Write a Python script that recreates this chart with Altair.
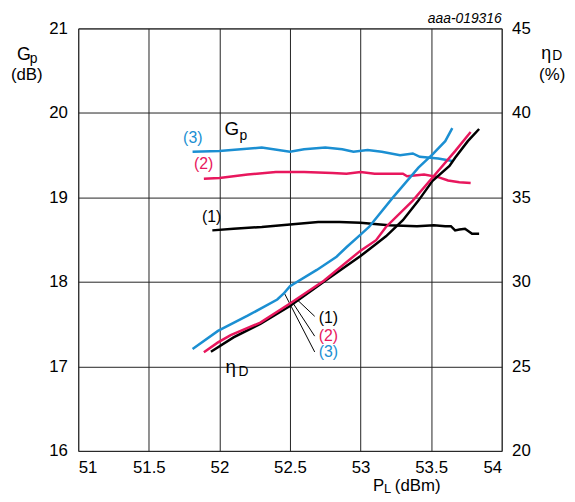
import altair as alt
import pandas as pd

FONT = "Liberation Sans"
BLUE = "#1b8fd2"
PINK = "#e8175d"
BLACK = "#000000"

# ---- data ----
# power gain Gp (dB) vs load power PL (dBm)
gp1_pl = [51.95, 52.10, 52.30, 52.50, 52.70, 52.85, 53.00, 53.20, 53.40, 53.52, 53.60, 53.64, 53.67, 53.70, 53.74, 53.79, 53.84]
gp1_v = [18.61, 18.63, 18.65, 18.68, 18.71, 18.71, 18.70, 18.67, 18.66, 18.67, 18.66, 18.66, 18.61, 18.62, 18.63, 18.57, 18.57]
gp2_pl = [51.89, 52.00, 52.20, 52.40, 52.60, 52.80, 52.90, 53.00, 53.10, 53.30, 53.33, 53.45, 53.55, 53.62, 53.70, 53.78]
gp2_v = [19.22, 19.23, 19.27, 19.30, 19.30, 19.29, 19.28, 19.30, 19.28, 19.28, 19.25, 19.27, 19.24, 19.20, 19.18, 19.17]
gp3_pl = [51.81, 52.00, 52.30, 52.50, 52.60, 52.75, 52.87, 52.95, 53.05, 53.15, 53.28, 53.37, 53.42, 53.55, 53.65]
gp3_v = [19.54, 19.55, 19.59, 19.54, 19.57, 19.59, 19.57, 19.54, 19.56, 19.54, 19.50, 19.52, 19.48, 19.46, 19.43]

# drain efficiency (%) vs PL (dBm)
eta1_pl = [51.94, 52.10, 52.29, 52.50, 52.76, 53.00, 53.11, 53.18, 53.30, 53.41, 53.51, 53.63, 53.67, 53.76, 53.84]
eta1_v = [25.87, 26.72, 27.52, 28.57, 30.13, 31.53, 32.24, 32.70, 33.65, 34.81, 35.98, 36.86, 37.35, 38.33, 39.05]
eta2_pl = [51.89, 51.99, 52.08, 52.29, 52.50, 52.74, 53.00, 53.11, 53.18, 53.37, 53.51, 53.67, 53.78]
eta2_v = [25.84, 26.42, 26.85, 27.59, 28.72, 30.07, 31.85, 32.47, 33.25, 34.81, 36.18, 37.74, 38.87]
eta3_pl = [51.81, 51.99, 52.20, 52.41, 52.46, 52.50, 52.69, 52.83, 52.90, 53.00, 53.06, 53.23, 53.41, 53.51, 53.60, 53.65]
eta3_v = [26.03, 27.10, 28.00, 28.96, 29.35, 29.74, 30.71, 31.49, 32.05, 32.80, 33.25, 35.00, 36.76, 37.55, 38.33, 39.10]

series_names = ["1", "2", "3"]
series_colors = [BLACK, PINK, BLUE]

x_ticks = [51, 51.5, 52, 52.5, 53, 53.5, 54]
gp_ticks = [16, 17, 18, 19, 20, 21]
eta_ticks = [20, 25, 30, 35, 40, 45]

# in-plot annotations (positions in PL / Gp units)
ann_text = ["(3)", "(2)", "(1)", "G", "p", "(1)", "(2)", "(3)", "η", "D"]
ann_pl = [51.743, 51.82, 51.876, 52.037, 52.142, 52.703, 52.703, 52.703, 52.044, 52.135]
ann_gp = [19.70, 19.396, 18.763, 19.806, 19.724, 17.569, 17.358, 17.171, 16.995, 16.937]
ann_col = [BLUE, PINK, BLACK, BLACK, BLACK, BLACK, PINK, BLUE, BLACK, BLACK]
ann_fs = [16, 16, 16, 19, 14, 16, 16, 16, 19, 14]

# leader lines to the lower labels (PL / Gp units)
lead_pl = [52.549, 52.514, 52.458]
lead_gp = [17.792, 17.768, 17.874]
lead_pl2 = [52.675, 52.675, 52.675]
lead_gp2 = [17.593, 17.358, 17.171]

# ---- tables ----
def mk(xs, ys, s):
    return pd.DataFrame({"pl": xs, "v": ys, "s": s})

gp_df = pd.concat([mk(gp1_pl, gp1_v, "1"), mk(gp2_pl, gp2_v, "2"), mk(gp3_pl, gp3_v, "3")])
eta_df = pd.concat([mk(eta1_pl, eta1_v, "1"), mk(eta2_pl, eta2_v, "2"), mk(eta3_pl, eta3_v, "3")])
ann_df = pd.DataFrame({"pl": ann_pl, "v": ann_gp, "t": ann_text, "c": ann_col, "fs": ann_fs})
lead_df = pd.DataFrame({"pl": lead_pl, "v": lead_gp, "pl2": lead_pl2, "v2": lead_gp2})

axis_common = dict(
    title=None, ticks=False, domain=False,
    labelFont=FONT, labelFontSize=17, labelColor="black",
    gridColor="#222222", gridWidth=1,
)

x_enc = alt.X(
    "pl:Q",
    scale=alt.Scale(domain=[51, 54], nice=False, zero=False),
    axis=alt.Axis(values=x_ticks, format=".1~f", grid=True, labelPadding=9, **axis_common),
)
gp_y = alt.Y(
    "v:Q",
    scale=alt.Scale(domain=[16, 21], nice=False, zero=False),
    axis=alt.Axis(values=gp_ticks, format="d", grid=True, orient="left", labelPadding=11, **axis_common),
)
color_enc = alt.Color("s:N", scale=alt.Scale(domain=series_names, range=series_colors), legend=None)

gp_lines = alt.Chart(gp_df).mark_line(strokeWidth=2.5).encode(x=x_enc, y=gp_y, color=color_enc)

leaders = alt.Chart(lead_df).mark_rule(color="black", strokeWidth=1).encode(
    x="pl:Q", y="v:Q", x2="pl2:Q", y2="v2:Q"
)

ann = alt.Chart(ann_df).mark_text(align="left", baseline="middle", font=FONT).encode(
    x="pl:Q", y="v:Q", text="t:N",
    color=alt.Color("c:N", scale=None),
    size=alt.Size("fs:Q", scale=None),
)


def label(txt, px, py, fs=17, align="left", italic=False):
    d = pd.DataFrame({"t": [txt]})
    kw = dict(align=align, baseline="middle", font=FONT, fontSize=fs, color="black")
    if italic:
        kw["fontStyle"] = "italic"
    return alt.Chart(d).mark_text(**kw).encode(x=alt.value(px), y=alt.value(py), text="t:N")


outside = [
    label("G", -62, 27, 18),
    label("p", -49, 31, 14),
    label("(dB)", -52, 47, 17, align="center"),
    label("η", 468, 26, 18),
    label("D", 479, 28, 14),
    label("(%)", 479, 47, 17, align="center"),
    label("P", 298, 463, 17),
    label("L", 309, 466, 13),
    label("(dBm)", 320, 463, 17),
    label("aaa-019316", 428, -9, 14, align="right", italic=True),
]

gp_layer = alt.layer(gp_lines, leaders, ann, *outside)

eta_y = alt.Y(
    "v:Q",
    scale=alt.Scale(domain=[20, 45], nice=False, zero=False),
    axis=alt.Axis(values=eta_ticks, format="d", grid=False, orient="right", labelPadding=10, **axis_common),
)
eta_lines = alt.Chart(eta_df).mark_line(strokeWidth=2.5).encode(x=x_enc, y=eta_y, color=color_enc)

chart = (
    alt.layer(gp_layer, eta_lines)
    .resolve_scale(y="independent")
    .properties(
        width=428,
        height=427,
        autosize=alt.AutoSizeParams(type="none"),
        padding={"left": 71, "top": 18, "right": 66, "bottom": 48},
        background="white",
    )
    .configure_view(stroke="#444444", strokeWidth=1)
)

chart.save("out.html", embed_options={"renderer": "svg", "actions": False})
